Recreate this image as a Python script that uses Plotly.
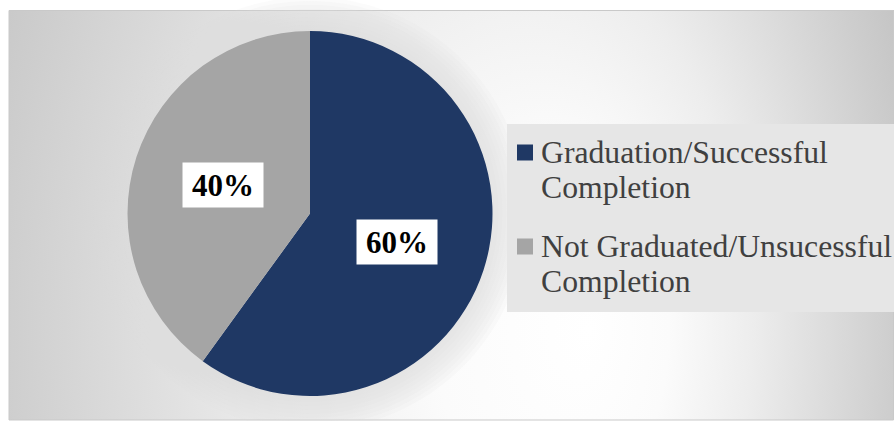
import base64
import math
import plotly.graph_objects as go

# ---- data ----
labels = ["Graduation/Successful Completion", "Not Graduated/Unsucessful Completion"]
values = [60, 40]
colors = ["#1f3864", "#a5a5a5"]
pct_labels = ["60%", "40%"]

W, H = 894, 421
FONT = "Liberation Serif, Times New Roman, serif"

# panel (chart area) in px
PX0, PY0, PX1, PY1 = 9, 10, 894, 420
# pie domain in px
DX0, DX1, DY0, DY1 = 127, 493, 31, 396


def px(x):
    return x / W


def py(y):
    return 1 - y / H


# background gradient as svg image
pw, ph = PX1 - PX0, PY1 - PY0
svg = f'''<svg xmlns="http://www.w3.org/2000/svg" width="{pw}" height="{ph}" viewBox="0 0 {pw} {ph}">
<defs><radialGradient id="g" gradientUnits="userSpaceOnUse" cx="0" cy="0" r="1" fx="0.32" fy="0"
 gradientTransform="translate({420-PX0},{330-PY0}) scale(530,850)">
<stop offset="0" stop-color="#ffffff"/>
<stop offset="0.22" stop-color="#fbfbfb"/>
<stop offset="0.45" stop-color="#ededed"/>
<stop offset="0.7" stop-color="#d9d9d9"/>
<stop offset="0.85" stop-color="#cdcdcd"/>
<stop offset="1" stop-color="#c2c2c2"/>
</radialGradient></defs>
<rect x="0" y="0" width="{pw}" height="{ph}" fill="url(#g)"/>
</svg>'''
src = "data:image/svg+xml;base64," + base64.b64encode(svg.encode()).decode()

fig = go.Figure()
fig.add_trace(go.Pie(
    values=values, labels=labels, sort=False, direction="clockwise", rotation=0,
    marker=dict(colors=colors, line=dict(width=0)),
    textinfo="none", hoverinfo="skip", showlegend=False,
    domain=dict(x=[px(DX0), px(DX1)], y=[py(DY1), py(DY0)]),
))

shapes = []
# panel border
shapes.append(dict(type="rect", xref="paper", yref="paper", x0=px(PX0), x1=px(PX1 - 0.5),
                   y0=py(PY1), y1=py(PY0 + 0.5), line=dict(color="#c9c9c9", width=1),
                   fillcolor="rgba(0,0,0,0)", layer="below"))
# soft glow around pie
cx, cy = (DX0 + DX1) / 2, (DY0 + DY1) / 2
R = min(DX1 - DX0, DY1 - DY0) / 2
for k in range(2, 36, 4):
    shapes.append(dict(type="circle", xref="paper", yref="paper",
                       x0=px(cx - R - k), x1=px(cx + R + k), y0=py(cy + R + k), y1=py(cy - R - k),
                       fillcolor="rgba(218,218,218,0.12)", line=dict(width=0), layer="below"))

# legend box
LX0, LY0, LX1, LY1 = 507, 124, 894, 312
shapes.append(dict(type="rect", xref="paper", yref="paper", x0=px(LX0), x1=px(LX1),
                   y0=py(LY1), y1=py(LY0), fillcolor="#e6e6e6", line=dict(width=0), layer="below"))

annotations = []
# percent labels in white boxes
total = sum(values)
cum = 0
for v, t in zip(values, pct_labels):
    mid = (cum + v / 2) / total * 2 * math.pi
    cum += v
    lx = cx + 0.5 * R * math.sin(mid)
    ly = cy - 0.5 * R * math.cos(mid)
    annotations.append(dict(x=px(lx), y=py(ly), xref="paper", yref="paper", text=f"<b>{t}</b>",
                            showarrow=False, xanchor="center", yanchor="middle",
                            font=dict(family=FONT, size=31, color="#000000"),
                            bgcolor="#ffffff", width=80, height=44, borderpad=0))

# custom legend
first_base = 163
item_gap = 94
line_gap = 35
lfs = 31.7
for i, (lab, col) in enumerate(zip(labels, colors)):
    base = first_base + i * item_gap
    sq_c = base - 10.5
    shapes.append(dict(type="rect", xref="paper", yref="paper", x0=px(517), x1=px(533),
                       y0=py(sq_c + 8), y1=py(sq_c - 8), fillcolor=col, line=dict(width=0)))
    for j, line in enumerate(lab.rsplit(" ", 1)):
        yb = base + j * line_gap
        annotations.append(dict(x=px(539), y=py(yb - 0.3375 * lfs), xref="paper", yref="paper",
                                text=line, showarrow=False, xanchor="left", yanchor="middle",
                                font=dict(family=FONT, size=lfs, color="#404040")))

fig.update_layout(
    width=W, height=H, margin=dict(l=0, r=0, t=0, b=0),
    paper_bgcolor="#ffffff", plot_bgcolor="#ffffff",
    shapes=shapes, annotations=annotations,
    images=[dict(source=src, xref="paper", yref="paper", x=px(PX0), y=py(PY0),
                 sizex=px(PX1) - px(PX0), sizey=py(PY0) - py(PY1), sizing="stretch",
                 xanchor="left", yanchor="top", layer="below")],
)
fig.write_html("out.html", post_script="document.body.style.margin='0';",
               config={"displayModeBar": False})
